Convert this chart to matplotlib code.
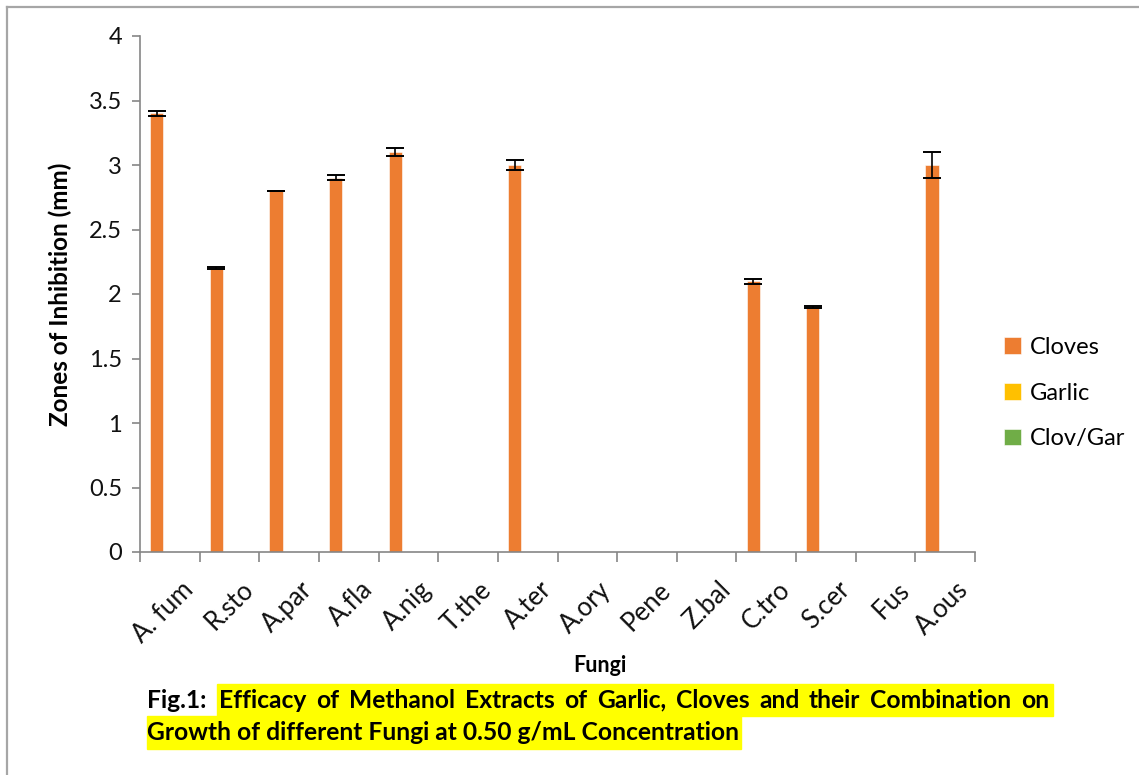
import numpy as np
import matplotlib.pyplot as plt
import matplotlib.transforms as mtransforms
from matplotlib.lines import Line2D
from matplotlib.patches import Rectangle

plt.rcParams['font.family'] = ['Lato', 'DejaVu Sans']

fungi = ['A. fum', 'R.sto', 'A.par', 'A.fla', 'A.nig', 'T.the', 'A.ter',
         'A.ory', 'Pene', 'Z.bal', 'C.tro', 'S.cer', 'Fus', 'A.ous']
cloves = [3.4, 2.2, 2.8, 2.9, 3.1, 0, 3.0, 0, 0, 0, 2.1, 1.9, 0, 3.0]
cloves_err = [0.02, 0.01, 0.0, 0.02, 0.03, 0, 0.04, 0, 0, 0, 0.02, 0.01, 0, 0.1]
garlic = [0] * 14
clov_gar = [0] * 14
series_names = ['Cloves', 'Garlic', 'Clov/Gar']
colors = ['#ED7D31', '#FFC000', '#70AD47']
yticks = [0, 0.5, 1, 1.5, 2, 2.5, 3, 3.5, 4]

W, H = 1139, 775
fig = plt.figure(figsize=(W / 100, H / 100), dpi=100)
ax = fig.add_axes([140 / W, 1 - 552 / H, 835 / W, 516 / H])

x = np.arange(len(fungi)) + 0.5
bw = 0.22
all_series = [cloves, garlic, clov_gar]
for i, (vals, name, c) in enumerate(zip(all_series, series_names, colors)):
    ax.bar(x + (i - 1) * bw, vals, bw, color=c, label=name,
           edgecolor='white', linewidth=0.4)

# error bars only where cloves has a bar
cl = np.array(cloves)
err = np.array(cloves_err)
m = cl > 0
ax.errorbar(x[m] - bw, cl[m], yerr=err[m], fmt='none', ecolor='black',
            elinewidth=1.2, capsize=6.5, capthick=1.4)

ax.set_xlim(0, len(fungi))
ax.set_ylim(0, 4)
ax.set_xticks(np.arange(len(fungi) + 1))
ax.set_xticklabels([])
ax.set_xticks(x, minor=True)
ax.set_xticklabels(fungi, minor=True, rotation=45, ha='right', va='top',
                   rotation_mode='anchor', fontsize=18.5, color='#111111')
ax.tick_params(axis='x', which='minor', length=0, pad=18)
ax.tick_params(axis='x', which='major', length=7, width=1.2, color='#868686')
shift = mtransforms.ScaledTranslation(11 / 100, 0, fig.dpi_scale_trans)
for lbl in ax.get_xticklabels(minor=True):
    lbl.set_transform(lbl.get_transform() + shift)
ax.set_yticks(yticks)
ax.set_yticklabels(['%g' % v for v in yticks], fontsize=17, color='#111111')
ax.tick_params(axis='y', length=6, width=1.2, color='#868686', pad=7)

for s in ['top', 'right']:
    ax.spines[s].set_visible(False)
for s in ['left', 'bottom']:
    ax.spines[s].set_color('#868686')
    ax.spines[s].set_linewidth(1.2)

fig.text(60 / W, 1 - 294 / H, 'Zones of Inhibition (mm)', rotation=90,
         ha='center', va='center', fontsize=17.5, fontweight='bold')
fig.text(600 / W, 1 - 665 / H, 'Fungi', ha='center', va='center',
         fontsize=15.5, fontweight='bold')

fig.legend(loc='center left', bbox_to_anchor=(983 / W, 1 - 393 / H),
           frameon=False, fontsize=17, handlelength=0.7, handleheight=0.7,
           handletextpad=0.4, labelspacing=1.05)

# grey page border (left and top)
fig.add_artist(Line2D([7 / W, 7 / W], [0, 1 - 7 / H], transform=fig.transFigure,
                      color='#a6a6a6', lw=1.6))
fig.add_artist(Line2D([7 / W, 1], [1 - 7 / H, 1 - 7 / H], transform=fig.transFigure,
                      color='#a6a6a6', lw=1.6))

# caption with yellow highlight, first line justified
fig.add_artist(Rectangle((217 / W, 1 - 716 / H), 836 / W, 32 / H,
                         transform=fig.transFigure, color='#FFFF00', zorder=0))
fig.add_artist(Rectangle((147 / W, 1 - 749 / H), 594 / W, 33 / H,
                         transform=fig.transFigure, color='#FFFF00', zorder=0))

cap_fs = 15
line1 = 'Efficacy of Methanol Extracts of Garlic, Cloves and their Combination on'.split()
line2 = 'Growth of different Fungi at 0.50 g/mL Concentration'
y1 = 1 - 700 / H
y2 = 1 - 733 / H
t2 = fig.text(147 / W, y2, line2, ha='left', va='center', fontsize=cap_fs,
              fontweight='bold')
fig.canvas.draw()
r = fig.canvas.get_renderer()
w2 = t2.get_window_extent(r).width
fs2 = cap_fs * 592 / w2
t2.set_fontsize(fs2)
fig.text(147 / W, y1, 'Fig.1:', ha='left', va='center', fontsize=fs2,
         fontweight='bold')

words = [fig.text(0, y1, w, ha='left', va='center', fontsize=fs2,
                  fontweight='bold') for w in line1]
widths = [t.get_window_extent(r).width for t in words]
x0, x1 = 219, 1049
gap = (x1 - x0 - sum(widths)) / (len(words) - 1)
xp = x0
for t, wd in zip(words, widths):
    t.set_x(xp / W)
    xp += wd + gap

fig.savefig('out.png', dpi=100)
